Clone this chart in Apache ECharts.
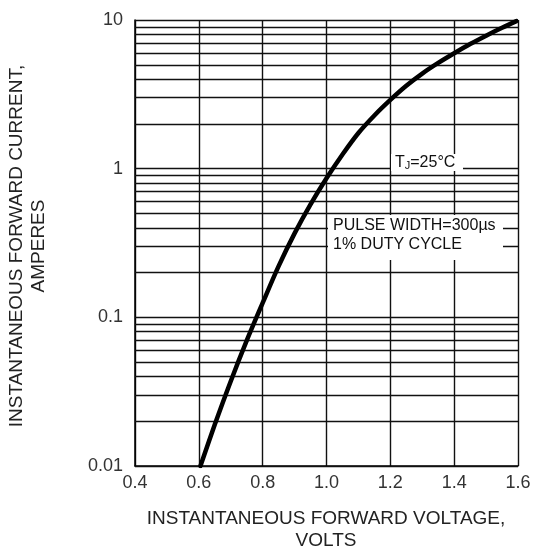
<!DOCTYPE html>
<html>
<head>
<meta charset="utf-8">
<script src="https://cdn.jsdelivr.net/npm/echarts@6/dist/echarts.min.js"></script>
<style>html,body{margin:0;padding:0;background:#fff}#c{width:534px;height:553px}</style>
</head>
<body>
<div id="c"></div>
<script>
// Forward voltage (V) and instantaneous forward current (A)
const voltage = [0.605, 0.65, 0.70, 0.75, 0.80, 0.85, 0.90, 0.95, 1.00, 1.05, 1.10, 1.15, 1.20, 1.25, 1.30, 1.35, 1.40, 1.45, 1.50, 1.55, 1.595];
const current = [0.0100, 0.0190, 0.0372, 0.0697, 0.125, 0.221, 0.367, 0.575, 0.861, 1.245, 1.738, 2.28, 2.90, 3.61, 4.36, 5.14, 5.97, 6.89, 7.85, 8.87, 9.82];
const xTicks = [0.4, 0.6, 0.8, 1.0, 1.2, 1.4, 1.6];
const yTickLabels = ['0.01', '0.1', '1', '10'];
const yGridValues = [0.01,0.02,0.03,0.04,0.05,0.06,0.07,0.08,0.09,
                     0.1,0.2,0.3,0.4,0.5,0.6,0.7,0.8,0.9,
                     1,2,3,4,5,6,7,8,9,10];
const xName = ['INSTANTANEOUS FORWARD VOLTAGE,', 'VOLTS'];
const yName = ['INSTANTANEOUS FORWARD CURRENT,', 'AMPERES'];
const note1 = ['T', 'J', '=25°C'];
const note2 = ['PULSE WIDTH=300µs', '1% DUTY CYCLE'];

const FONT = '"Liberation Sans", Arial, Helvetica, sans-serif';
const chart = echarts.init(document.getElementById('c'), null, {renderer: 'canvas'});
const points = voltage.map((v, i) => [v, current[i]]);

chart.setOption({
  animation: false,
  backgroundColor: '#fff',
  grid: {left: 135, right: 16, top: 20, bottom: 87, containLabel: false},
  xAxis: {
    type: 'value', min: 0.4, max: 1.6, interval: 0.2,
    axisLine: {show: true, lineStyle: {color: '#000', width: 1.5}},
    axisTick: {show: false},
    splitLine: {show: true, lineStyle: {color: '#111', width: 1.4}},
    axisLabel: {color: '#333', fontSize: 18, fontFamily: FONT, margin: 8,
      formatter: v => { const t = xTicks.find(x => Math.abs(x - v) < 1e-6); return t === undefined ? '' : t.toFixed(1); }}
  },
  yAxis: {
    type: 'log', logBase: 10, min: 0.01, max: 10,
    axisLine: {show: true, lineStyle: {color: '#000', width: 1.5}},
    axisTick: {show: false},
    splitLine: {show: false},
    minorTick: {show: false},
    axisLabel: {color: '#333', fontSize: 18, fontFamily: FONT, margin: 12,
      formatter: v => { const e = Math.round(Math.log10(v)) + 2; return yTickLabels[e] || ''; }}
  },
  series: [
    {
      type: 'line', data: [[0.4, 0.01]], symbol: 'none', silent: true, z: 1,
      lineStyle: {width: 0, opacity: 0},
      markLine: {
        silent: true, symbol: ['none', 'none'], animation: false,
        label: {show: false},
        lineStyle: {color: '#111', width: 1.4, type: 'solid'},
        emphasis: {disabled: true},
        data: yGridValues.map(v => ({yAxis: v}))
      }
    },
    {
      type: 'line', data: points, smooth: 0.3, symbol: 'none', z: 5,
      lineStyle: {color: '#000', width: 4.5, cap: 'round', join: 'round'}
    }
  ],
  graphic: [
    {type: 'rect', z: 50, shape: {x: 391, y: 154, width: 72, height: 17}, style: {fill: '#fff'}},
    {type: 'text', z: 51, x: 395, y: 171, style: {
      text: '{t|' + note1[0] + '}{s|' + note1[1] + '}{t|' + note1[2] + '}',
      textVerticalAlign: 'bottom', verticalAlign: 'bottom',
      rich: {
        t: {fontSize: 16, fontFamily: FONT, fill: '#111', verticalAlign: 'bottom', lineHeight: 17},
        s: {fontSize: 11, fontFamily: FONT, fill: '#111', verticalAlign: 'bottom', lineHeight: 15}
      }
    }},
    {type: 'rect', z: 50, shape: {x: 328, y: 215, width: 175, height: 45}, style: {fill: '#fff'}},
    {type: 'text', z: 51, x: 333, y: 226, style: {text: note2[0], fontSize: 16, fontFamily: FONT, fill: '#111', verticalAlign: 'middle', align: 'left'}},
    {type: 'text', z: 51, x: 333, y: 245, style: {text: note2[1], fontSize: 16, fontFamily: FONT, fill: '#111', verticalAlign: 'middle', align: 'left'}},
    {type: 'text', z: 51, x: 326, y: 519, style: {text: xName[0], fontSize: 19, fontFamily: FONT, fill: '#222', align: 'center', verticalAlign: 'middle'}},
    {type: 'text', z: 51, x: 326, y: 541, style: {text: xName[1], fontSize: 19, fontFamily: FONT, fill: '#222', align: 'center', verticalAlign: 'middle'}},
    {type: 'text', z: 51, x: 17, y: 246, rotation: Math.PI / 2, style: {text: yName[0], fontSize: 19, fontFamily: FONT, fill: '#222', align: 'center', verticalAlign: 'middle'}},
    {type: 'text', z: 51, x: 39, y: 246, rotation: Math.PI / 2, style: {text: yName[1], fontSize: 19, fontFamily: FONT, fill: '#222', align: 'center', verticalAlign: 'middle'}}
  ]
});
</script>
</body>
</html>
